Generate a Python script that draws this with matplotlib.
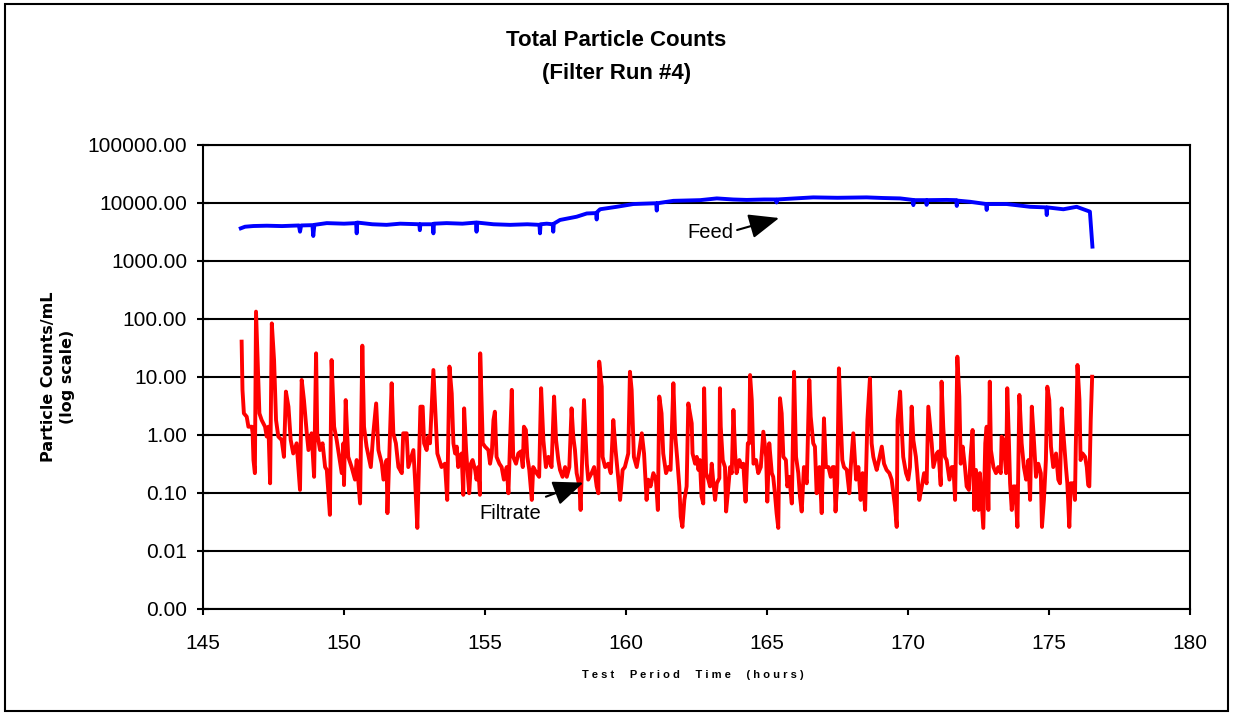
import matplotlib
matplotlib.use("Agg")
import matplotlib.pyplot as plt
from matplotlib.patches import Rectangle
from matplotlib.ticker import FixedLocator, FuncFormatter, NullLocator

plt.rcParams["font.family"] = ["Liberation Sans", "DejaVu Sans"]

# feed (blue) - hours / counts per mL
feed_hours = [146.34, 146.49, 146.79, 147.26, 147.80, 148.40, 148.44, 148.48, 148.88, 148.91,
              148.95, 149.39, 150.00, 150.43, 150.45, 150.47, 151.00, 151.51, 151.99, 152.67,
              152.69, 152.71, 153.15, 153.17, 153.19, 153.64, 154.20, 154.68, 154.70, 154.72,
              155.30, 155.89, 156.50, 156.93, 156.95, 156.97, 157.19, 157.40, 157.42, 157.44,
              157.66, 158.25, 158.61, 158.94, 158.96, 158.98, 159.08, 159.67, 160.26, 160.80,
              161.07, 161.09, 161.11, 161.68, 162.63, 163.22, 163.80, 164.28, 164.90, 165.32,
              165.34, 165.36, 166.00, 166.64, 167.50, 168.53, 169.10, 169.72, 170.17, 170.19,
              170.21, 170.64, 170.66, 170.68, 171.37, 171.71, 171.73, 171.75, 172.20, 172.77,
              172.79, 172.81, 173.50, 174.33, 174.90, 174.92, 174.94, 175.51, 175.98, 176.45,
              176.54]
feed_counts = [3660, 3900, 4010, 4060, 4000, 4100, 3200, 4100, 4150, 2700,
               4200, 4500, 4400, 4500, 3000, 4600, 4300, 4200, 4400, 4300,
               3400, 4300, 4300, 3000, 4400, 4500, 4400, 4600, 3200, 4600,
               4300, 4200, 4300, 4200, 3000, 4300, 4400, 4300, 3200, 4400,
               5100, 5800, 6600, 6700, 5200, 7000, 7800, 8600, 9600, 9800,
               9900, 7400, 9900, 10900, 11200, 12000, 11500, 11300, 11500, 11500,
               10200, 11500, 12000, 12500, 12300, 12500, 12200, 12000, 11300, 9200,
               11200, 11200, 9300, 11200, 11300, 11200, 8900, 11000, 10500, 9600,
               7600, 9600, 9600, 8600, 8400, 6200, 8400, 7800, 8600, 7100,
               1770]

# filtrate (red)
filtrate_hours = [
    146.37, 146.40, 146.45, 146.55, 146.61, 146.73, 146.76, 146.79, 146.84, 146.88,
    147.00, 147.08, 147.20, 147.26, 147.32, 147.38, 147.44, 147.52, 147.59, 147.67,
    147.79, 147.87, 147.94, 148.03, 148.11, 148.20, 148.32, 148.44, 148.50, 148.58,
    148.68, 148.74, 148.85, 148.94, 149.01, 149.05, 149.15, 149.24, 149.33, 149.39,
    149.50, 149.56, 149.65, 149.74, 149.83, 149.92, 149.98, 150.00, 150.06, 150.15,
    150.27, 150.39, 150.45, 150.57, 150.65, 150.71, 150.80, 150.95, 151.04, 151.14,
    151.22, 151.34, 151.40, 151.51, 151.54, 151.69, 151.75, 151.84, 151.93, 152.05,
    152.10, 152.22, 152.28, 152.46, 152.52, 152.60, 152.71, 152.79, 152.84, 152.93,
    152.99, 153.05, 153.17, 153.31, 153.46, 153.58, 153.66, 153.74,
    153.82, 153.88, 153.94, 154.00, 154.05, 154.11, 154.17, 154.23, 154.26, 154.33,
    154.37, 154.44, 154.50, 154.56, 154.65, 154.70, 154.76, 154.82, 154.83, 154.92,
    155.00, 155.12, 155.18, 155.24, 155.30, 155.35, 155.41, 155.51, 155.59, 155.67,
    155.77, 155.83, 155.95, 156.00, 156.10, 156.18, 156.27, 156.34, 156.38, 156.45,
    156.50, 156.57, 156.66, 156.71, 156.83, 156.92, 156.99, 157.07, 157.16, 157.25,
    157.36, 157.45, 157.52, 157.60, 157.66, 157.75, 157.84, 157.90, 157.99, 158.07,
    158.13, 158.19, 158.25, 158.35, 158.39, 158.51, 158.61, 158.66, 158.78, 158.87,
    158.96, 159.02, 159.05, 159.14, 159.17, 159.26, 159.37, 159.46, 159.55, 159.63,
    159.73, 159.79, 159.88, 159.96, 160.08, 160.14, 160.20, 160.28, 160.38, 160.46,
    160.56, 160.64, 160.73, 160.79, 160.87, 160.97, 161.06, 161.13, 161.18, 161.26,
    161.32, 161.42, 161.50, 161.58, 161.68, 161.74, 161.82, 161.89, 161.94, 162.00,
    162.07, 162.15, 162.21,
    162.33, 162.36, 162.45, 162.51, 162.57, 162.62, 162.68, 162.74, 162.77, 162.84,
    162.92, 162.98, 163.04, 163.10, 163.16, 163.22, 163.31, 163.33, 163.36, 163.43,
    163.51, 163.55, 163.61, 163.69, 163.75, 163.81, 163.87, 163.92, 164.02, 164.10,
    164.16, 164.24, 164.32, 164.37, 164.40, 164.46, 164.52, 164.61, 164.69, 164.78,
    164.87, 164.97, 165.01, 165.08, 165.17, 165.22, 165.28, 165.34, 165.40, 165.46,
    165.52, 165.58, 165.67, 165.72, 165.79, 165.88, 165.96, 166.03, 166.11, 166.17,
    166.23, 166.31, 166.41, 166.50, 166.55, 166.64, 166.70, 166.76, 166.86, 166.94,
    167.02, 167.09, 167.18, 167.26, 167.33, 167.38, 167.43, 167.49, 167.55, 167.61,
    167.67, 167.73, 167.83, 167.92, 167.97, 168.06, 168.16, 168.24, 168.32, 168.39,
    168.48, 168.56, 168.65, 168.71, 168.77, 168.83, 168.89, 168.97, 169.07, 169.15,
    169.24, 169.34, 169.42, 169.54, 169.60, 169.63, 169.72, 169.78, 169.83, 169.93,
    170.01, 170.07, 170.13, 170.19, 170.28, 170.33, 170.40, 170.49, 170.57, 170.66,
    170.72,
    170.84, 170.90, 170.96, 171.02, 171.08, 171.16, 171.19, 171.25, 171.31, 171.37,
    171.47, 171.55, 171.61, 171.67, 171.75, 171.82, 171.87, 171.94, 172.02, 172.08,
    172.16, 172.22, 172.29, 172.35, 172.41, 172.50, 172.55, 172.61, 172.67, 172.74,
    172.79, 172.85, 172.90, 172.94, 173.03, 173.12, 173.20, 173.29, 173.32, 173.38,
    173.48, 173.52, 173.57, 173.62, 173.68, 173.74, 173.80, 173.88, 173.95, 174.03,
    174.11, 174.19, 174.27, 174.33, 174.39, 174.45, 174.54, 174.62, 174.71, 174.75,
    174.82, 174.89, 174.94, 175.01, 175.07, 175.15, 175.25, 175.33, 175.39, 175.45,
    175.51, 175.60, 175.65, 175.72, 175.77, 175.86, 175.92, 175.95, 176.01, 176.08,
    176.12, 176.19, 176.28, 176.34, 176.39, 176.43, 176.48, 176.53]
filtrate_counts = [
    40.7, 6.0, 2.36, 2.07, 1.39, 1.39, 1.07, 0.37, 0.22, 134,
    2.36, 1.81, 1.39, 0.94, 1.39, 0.147, 84, 19.6, 1.81, 0.94,
    0.82, 0.42, 5.6, 3.08, 0.82, 0.48, 0.72, 0.113, 8.9, 4.0,
    1.07, 0.55, 1.07, 0.19, 25.6, 1.07, 0.55, 0.72, 0.28, 0.25,
    0.042, 19.6, 1.39, 0.82, 0.42, 0.22, 0.72, 0.137, 4.0, 0.42,
    0.28, 0.17, 0.37, 0.066, 34.7, 1.39, 0.63, 0.28, 1.07, 3.5,
    0.55, 0.32, 0.17, 0.37, 0.045, 7.8, 1.07, 0.72, 0.28, 0.22,
    1.07, 1.07, 0.28, 0.55, 0.17, 0.025, 3.08, 3.08, 0.72, 0.55,
    0.94, 0.72, 13.2, 0.48, 0.28, 0.32, 0.076, 15.1,
    5.2, 0.72, 0.48, 0.63, 0.28, 0.42, 0.48, 0.093, 2.88, 0.55,
    0.28, 0.099, 0.32, 0.37, 0.25, 0.17, 0.28, 0.093, 25.6, 0.72,
    0.63, 0.55, 0.32, 0.48, 1.81, 2.52, 0.42, 0.32, 0.28, 0.17,
    0.28, 0.099, 6.0, 0.42, 0.32, 0.48, 0.52, 0.28, 1.39, 1.22,
    0.42, 0.25, 0.076, 0.28, 0.22, 0.19, 6.4, 0.82, 0.28, 0.42,
    0.28, 4.6, 0.82, 0.37, 0.25, 0.19, 0.28, 0.19, 0.28, 2.88,
    0.94, 0.55, 0.22, 0.13, 0.051, 4.0, 0.32, 0.17, 0.22, 0.28,
    0.13, 0.099, 18.4, 6.8, 0.42, 0.28, 0.32, 0.22, 1.81, 0.55,
    0.17, 0.076, 0.25, 0.28, 0.48, 12.3, 6.0, 0.42, 0.28, 0.48,
    1.07, 0.48, 0.076, 0.17, 0.13, 0.22, 0.17, 0.051, 4.6, 2.36,
    0.48, 0.22, 0.28, 0.25, 7.8, 1.07, 0.37, 0.13, 0.039, 0.026,
    0.076, 0.13, 3.5,
    1.59, 0.48, 0.32, 0.42, 0.25, 0.37, 0.087, 0.066, 6.4, 0.22,
    0.17, 0.13, 0.32, 0.147, 0.076, 0.147, 0.18, 6.4, 1.39, 0.37,
    0.28, 0.048, 0.099, 0.28, 0.22, 2.70, 0.48, 0.22, 0.37, 0.28,
    0.32, 0.071, 0.72, 0.72, 10.8, 4.0, 0.32, 0.37, 0.22, 0.28,
    1.14, 0.42, 0.071, 0.72, 0.22, 0.19, 0.099, 0.045, 0.025, 4.3,
    2.36, 0.42, 0.37, 0.13, 0.19, 0.066, 12.3, 0.42, 0.22, 0.087,
    0.048, 0.28, 0.147, 8.9, 2.07, 0.72, 0.63, 0.099, 0.28, 0.045,
    1.94, 0.28, 0.28, 0.19, 0.28, 0.28, 0.048, 0.147, 14.1, 2.07,
    0.37, 0.28, 0.25, 0.099, 0.28, 1.07, 0.17, 0.28, 0.076, 0.22,
    0.051, 1.81, 9.5, 0.72, 0.42, 0.32, 0.25, 0.37, 0.63, 0.32,
    0.25, 0.22, 0.17, 0.058, 0.026, 1.81, 5.6, 1.22, 0.42, 0.22,
    0.17, 0.28, 3.08, 0.82, 0.42, 0.22, 0.076, 0.13, 0.22, 0.147,
    3.08,
    0.72, 0.28, 0.37, 0.48, 0.52, 0.137, 8.3, 1.39, 0.42, 0.37,
    0.17, 0.28, 0.28, 0.076, 22.4, 4.6, 0.32, 0.63, 0.28, 0.13,
    0.113, 0.42, 1.22, 0.051, 0.25, 0.051, 0.22, 0.076, 0.025, 0.72,
    1.39, 0.051, 8.3, 0.55, 0.28, 0.22, 0.28, 0.22, 0.94, 0.82,
    0.22, 6.4, 1.07, 0.147, 0.051, 0.13, 0.13, 0.026, 4.9, 0.72,
    0.28, 0.17, 0.37, 0.076, 3.08, 1.07, 0.19, 0.32, 0.22, 0.026,
    0.076, 0.37, 6.8, 4.0, 0.63, 0.28, 0.48, 0.17, 0.147, 2.88,
    1.07, 0.28, 0.147, 0.026, 0.147, 0.147, 0.076, 0.63, 16.1, 4.0,
    0.37, 0.48, 0.42, 0.28, 0.137, 0.13, 1.81, 10.1]

y_ticks = [0.001, 0.01, 0.1, 1, 10, 100, 1000, 10000, 100000]
x_ticks = [145, 150, 155, 160, 165, 170, 175, 180]

fig = plt.figure(figsize=(12.33, 7.15), dpi=100)
ax = fig.add_axes([203 / 1233, 1 - 609 / 715, 987 / 1233, 464 / 715])

ax.plot(feed_hours, feed_counts, color="#0000FF", lw=2.8, solid_joinstyle="round", zorder=3)
ax.plot(filtrate_hours, filtrate_counts, color="#FF0000", lw=2.8, solid_joinstyle="round", zorder=3)

ax.set_yscale("log")
ax.set_ylim(0.001, 100000)
ax.set_xlim(145, 180)
ax.yaxis.set_major_locator(FixedLocator(y_ticks))
ax.yaxis.set_minor_locator(NullLocator())
ax.yaxis.set_major_formatter(FuncFormatter(lambda v, p: f"{v:.2f}"))
ax.set_xticks(x_ticks)
ax.grid(axis="y", color="black", lw=1.5)
ax.set_axisbelow(True)
for s in ax.spines.values():
    s.set_linewidth(1.5)
ax.tick_params(axis="y", direction="inout", length=9, width=1.5, pad=7, labelsize=15)
ax.tick_params(axis="x", direction="out", length=4, width=1.5, pad=14, labelsize=15)

# Feed / Filtrate labels with arrows
arrow = dict(arrowstyle="-|>,head_length=1.1,head_width=0.45", color="black",
             lw=1.5, shrinkA=0, shrinkB=0, mutation_scale=17)
ax.text(162.16, 3040, "Feed", fontsize=14.5, ha="left", va="center")
ax.annotate("", xy=(165.43, 5510), xytext=(163.94, 3420), arrowprops=arrow)
ax.text(154.79, 0.0447, "Filtrate", fontsize=14.5, ha="left", va="center")
ax.annotate("", xy=(158.49, 0.151), xytext=(157.16, 0.0863), arrowprops=arrow)

fig.text(0.5, 1 - 41 / 715, "Total Particle Counts", fontsize=16, fontweight="bold", ha="center", va="center")
fig.text(0.5, 1 - 74 / 715, "(Filter Run #4)", fontsize=16, fontweight="bold", ha="center", va="center")
fig.text(58 / 1233, 1 - 377 / 715, "Particle Counts/mL\n(log scale)", rotation=90, fontsize=11.5,
         fontweight="heavy", family=["DejaVu Sans"], ha="center", va="center", linespacing=1.3)
fig.text(693 / 1233, 1 - 675 / 715, " ".join("Test  Period  Time  (hours)"), fontsize=8,
         fontweight="bold", ha="center", va="center")

fig.patches.append(Rectangle((0.004, 0.006), 0.992, 0.988, transform=fig.transFigure,
                             fill=False, ec="black", lw=1.5))

fig.savefig("out.png", dpi=100)
print("saved out.png")
